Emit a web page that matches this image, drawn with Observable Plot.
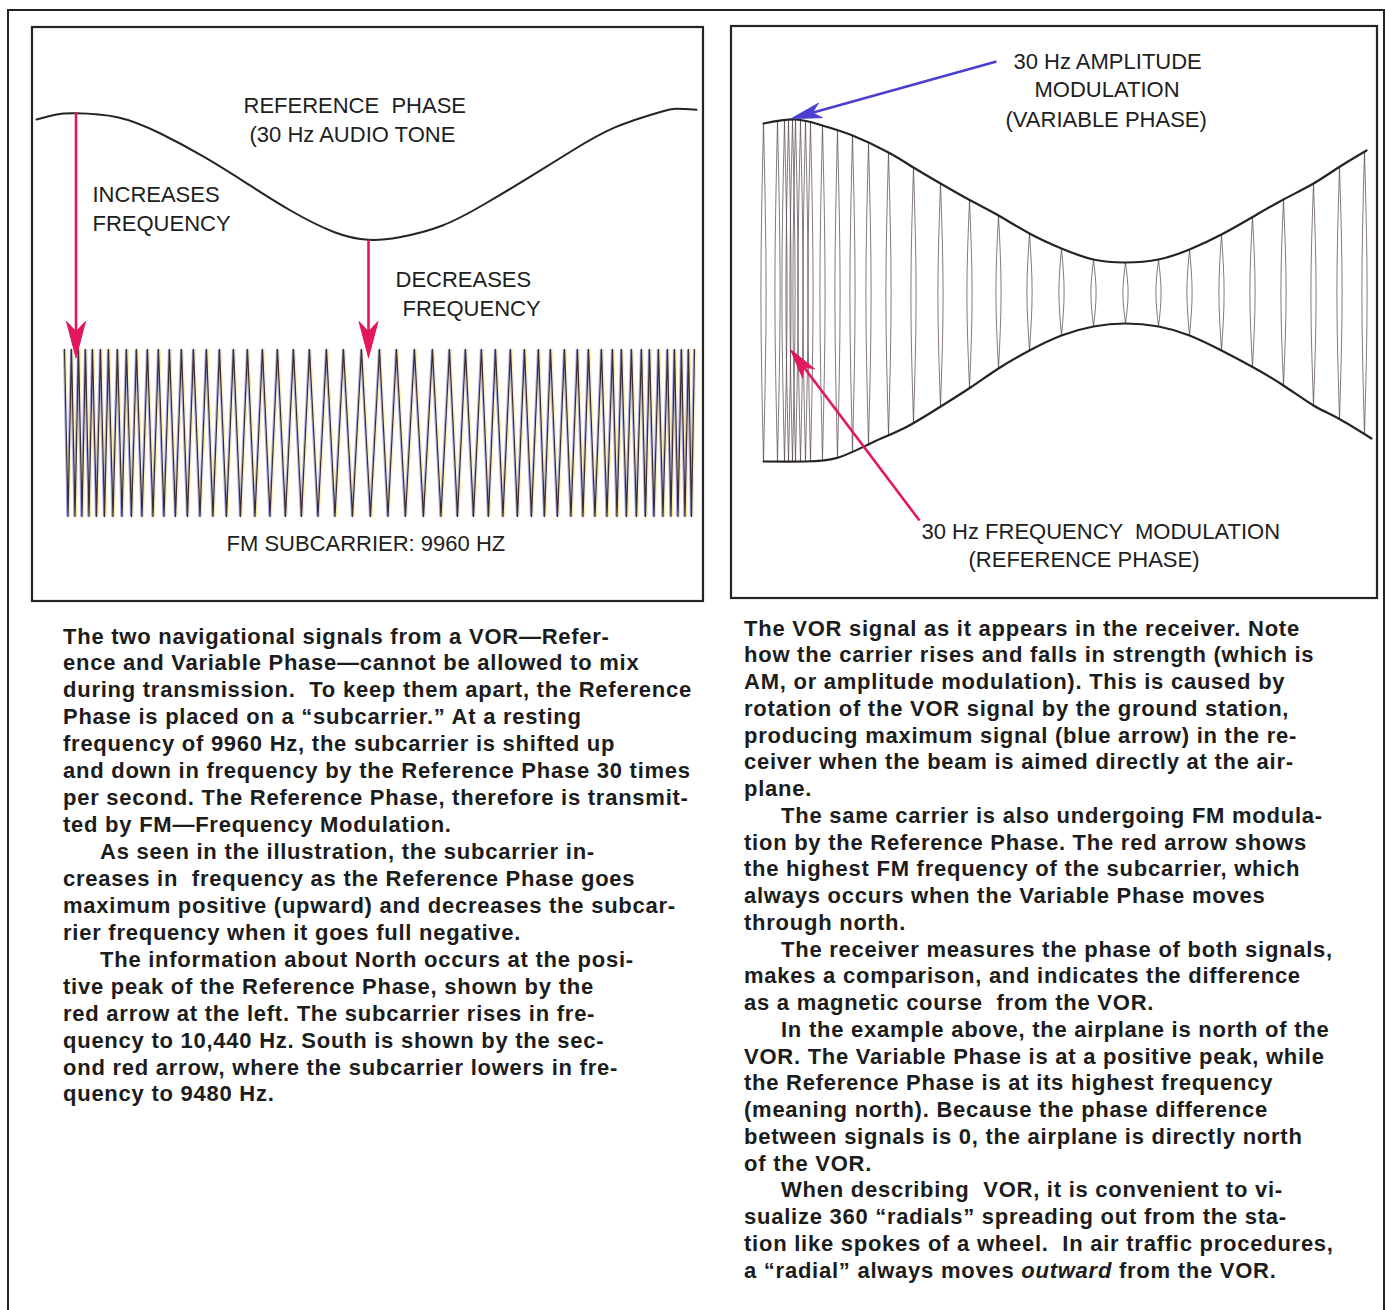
<!DOCTYPE html>
<html><head><meta charset="utf-8">
<script src="https://cdn.jsdelivr.net/npm/d3@7"></script>
<script src="https://cdn.jsdelivr.net/npm/@observablehq/plot@0.6"></script>
<style>
html,body{margin:0;padding:0;background:#fff;}
#page{position:relative;width:1385px;height:1310px;overflow:hidden;background:#fff;}
#outer{position:absolute;left:7px;top:9px;width:1374px;height:1340px;border:2px solid #232323;}
#chart{position:absolute;left:0;top:0;}
.col{position:absolute;font-family:"Liberation Sans",Arial,Helvetica,sans-serif;font-weight:bold;font-size:22px;letter-spacing:0.75px;color:#1c1c1c;white-space:pre;tab-size:37px;}
#leftText div{height:26.94px;line-height:26.94px;}
#rightText div{height:26.75px;line-height:26.75px;}
</style></head><body>
<div id="page"><div id="outer"></div><div id="chart"></div>
<div class="col" id="leftText" style="left:63px;top:623.5px"></div>
<div class="col" id="rightText" style="left:744px;top:615.6px"></div></div>
<script>
// ---------- data (drawing units = page pixels) ----------
const panels = [
  {name: "fm", x1: 32, x2: 703, y1: 27, y2: 601},
  {name: "am", x1: 731, x2: 1377, y1: 26, y2: 598}
];
// Reference phase (30 Hz audio tone)
const refPhaseX = [36, 56, 75, 117, 160, 204, 247, 290, 334, 368, 399, 442, 485, 529, 572, 615, 659, 676, 696];
const refPhaseY = [119, 114, 112.7, 116.7, 133, 156.7, 183.3, 210, 231.7, 239.3, 236.7, 225, 203, 176.7, 150, 126.7, 111.7, 108.3, 109.3];
// FM subcarrier: x of each positive peak
const fmPeaksX = [64, 71, 78, 85, 92, 100, 108, 117, 126, 136, 147, 158, 169, 181, 193, 206, 219, 233, 247, 262,
  277, 293, 309, 326, 343, 361, 379, 396, 414, 432, 449, 465, 481,
  495, 510, 524, 538, 550, 564, 577, 588, 601, 612, 621, 631, 641, 649, 658, 667, 674, 681, 688, 694];
const fmPeakY = 349, fmTroughY = 516;
// AM envelope (variable phase)
const amUpperX = [763, 795, 822, 852, 888, 913, 940, 970, 998, 1029, 1061, 1093, 1125, 1158, 1189, 1221, 1253, 1283, 1313, 1338, 1366];
const amUpperY = [123, 119, 125, 135, 152, 167, 183, 200, 215, 233, 248, 259, 262, 259, 249, 234, 216, 199, 183, 167, 150];
const amLowerX = [763, 805, 838, 872, 905, 937, 970, 998, 1029, 1061, 1093, 1125, 1158, 1189, 1221, 1253, 1283, 1313, 1338, 1371];
const amLowerY = [461, 461, 457, 442, 427, 408, 387, 368, 350, 335, 326, 323, 326, 335, 350, 367, 385, 405, 418, 438];
// carrier cycles inside the envelope (x of each cycle)
const amCarrierX = [763, 777, 784, 788, 792, 795, 800, 805, 810, 822, 837, 852, 868, 888, 913, 940, 969, 998, 1029, 1061, 1093, 1125, 1158, 1189, 1221, 1252, 1283, 1313, 1339, 1364];
// arrows: tail -> tip
const arrows = [
  {from: [75.5, 112], to: [75.5, 357], color: "red", size: "large"},
  {from: [368, 239], to: [368, 357], color: "red", size: "large"},
  {from: [996, 61], to: [791, 118], color: "blue", size: "small"},
  {from: [919, 520], to: [790, 349], color: "red", size: "small"}
];
// labels
const labelText = ["REFERENCE  PHASE", "(30 Hz AUDIO TONE", "INCREASES", "FREQUENCY", "DECREASES", "FREQUENCY", "FM SUBCARRIER: 9960 HZ",
  "30 Hz AMPLITUDE", "MODULATION", "(VARIABLE PHASE)", "30 Hz FREQUENCY  MODULATION", "(REFERENCE PHASE)"];
const labelX = [243, 249, 92, 92, 395, 402, 226, 1013, 1034, 1005, 921, 968];
const labelY = [105, 134, 194, 223, 279, 308, 543, 61, 89, 119, 531, 559];
// paragraphs (\t = paragraph indent, *..* = italic)
const leftLines = [
  "The two navigational signals from a VOR\u2014Refer-",
  "ence and Variable Phase\u2014cannot be allowed to mix",
  "during transmission.  To keep them apart, the Reference",
  "Phase is placed on a \u201csubcarrier.\u201d At a resting",
  "frequency of 9960 Hz, the subcarrier is shifted up",
  "and down in frequency by the Reference Phase 30 times",
  "per second. The Reference Phase, therefore is transmit-",
  "ted by FM\u2014Frequency Modulation.",
  "\tAs seen in the illustration, the subcarrier in-",
  "creases in  frequency as the Reference Phase goes",
  "maximum positive (upward) and decreases the subcar-",
  "rier frequency when it goes full negative.",
  "\tThe information about North occurs at the posi-",
  "tive peak of the Reference Phase, shown by the",
  "red arrow at the left. The subcarrier rises in fre-",
  "quency to 10,440 Hz. South is shown by the sec-",
  "ond red arrow, where the subcarrier lowers in fre-",
  "quency to 9480 Hz."
];
const rightLines = [
  "The VOR signal as it appears in the receiver. Note",
  "how the carrier rises and falls in strength (which is",
  "AM, or amplitude modulation). This is caused by",
  "rotation of the VOR signal by the ground station,",
  "producing maximum signal (blue arrow) in the re-",
  "ceiver when the beam is aimed directly at the air-",
  "plane.",
  "\tThe same carrier is also undergoing FM modula-",
  "tion by the Reference Phase. The red arrow shows",
  "the highest FM frequency of the subcarrier, which",
  "always occurs when the Variable Phase moves",
  "through north.",
  "\tThe receiver measures the phase of both signals,",
  "makes a comparison, and indicates the difference",
  "as a magnetic course  from the VOR.",
  "\tIn the example above, the airplane is north of the",
  "VOR. The Variable Phase is at a positive peak, while",
  "the Reference Phase is at its highest frequency",
  "(meaning north). Because the phase difference",
  "between signals is 0, the airplane is directly north",
  "of the VOR.",
  "\tWhen describing  VOR, it is convenient to vi-",
  "sualize 360 \u201cradials\u201d spreading out from the sta-",
  "tion like spokes of a wheel.  In air traffic procedures,",
  "a \u201cradial\u201d always moves *outward* from the VOR."
];

// ---------- styles ----------
const ink = "#242424";
const colors = {red: "#e3175b", blue: "#4b3fd0"};
const headSize = {large: {len: 36, half: 9.5}, small: {len: 30, half: 7.5}};
const lensHalfWidth = 2.6;
const W = 1385, H = 610;

// ---------- derived geometry ----------
const refPhase = refPhaseX.map((x, i) => ({x, y: refPhaseY[i]}));
const fmWave = [];
fmPeaksX.forEach((x, i) => {
  fmWave.push({x, y: fmPeakY});
  if (i < fmPeaksX.length - 1) fmWave.push({x: (x + fmPeaksX[i + 1]) / 2, y: fmTroughY});
});
const amUpper = amUpperX.map((x, i) => ({x, y: amUpperY[i]}));
const amLower = amLowerX.map((x, i) => ({x, y: amLowerY[i]}));
const yAt = (xs, ys, x) => {
  if (x <= xs[0]) return ys[0];
  for (let i = 1; i < xs.length; i++) if (x <= xs[i]) {
    const t = (x - xs[i - 1]) / (xs[i] - xs[i - 1]);
    return ys[i - 1] + t * (ys[i] - ys[i - 1]);
  }
  return ys[ys.length - 1];
};
const lenses = [];
amCarrierX.forEach((x, i) => {
  const top = yAt(amUpperX, amUpperY, x), bot = yAt(amLowerX, amLowerY, x), mid = (top + bot) / 2;
  for (const s of [-1, 1]) {
    const id = i + "_" + s;
    lenses.push({id, x, y: top}, {id, x: x + s * lensHalfWidth, y: mid}, {id, x, y: bot});
  }
});
const arrowMarks = arrows.flatMap((a) => {
  const [x1, y1] = a.from, [x2, y2] = a.to;
  const len = Math.hypot(x2 - x1, y2 - y1), ux = (x2 - x1) / len, uy = (y2 - y1) / len;
  const {len: L, half: hw} = headSize[a.size];
  const bx = x2 - ux * L, by = y2 - uy * L;
  const nx = x2 - ux * L * 0.72, ny = y2 - uy * L * 0.72;
  const head = [
    {x: x2, y: y2}, {x: bx - uy * hw, y: by + ux * hw}, {x: nx, y: ny},
    {x: bx + uy * hw, y: by - ux * hw}, {x: x2, y: y2}
  ];
  return [
    Plot.link([a], {x1: () => x1, y1: () => y1, x2: () => nx, y2: () => ny, stroke: colors[a.color], strokeWidth: 2.6}),
    Plot.line(head, {x: "x", y: "y", fill: colors[a.color], stroke: colors[a.color], strokeWidth: 1, curve: "linear"})
  ];
});
const labels = labelText.map((text, i) => ({text, x: labelX[i], y: labelY[i]}));

const chart = Plot.plot({
  width: W, height: H, margin: 0,
  style: {background: "transparent", overflow: "visible"},
  x: {domain: [0, W], range: [0, W], axis: null},
  y: {domain: [0, H], range: [0, H], axis: null},
  marks: [
    Plot.rect(panels, {x1: "x1", x2: "x2", y1: "y1", y2: "y2", fill: "white", stroke: ink, strokeWidth: 2.2}),
    // FM subcarrier with faint print mis-registration fringes
    Plot.line(fmWave, {x: "x", y: "y", stroke: "#e6d23c", strokeWidth: 0.9, dx: 1.5, strokeOpacity: 0.45}),
    Plot.line(fmWave, {x: "x", y: "y", stroke: "#4c55d8", strokeWidth: 0.9, dx: -1.1, strokeOpacity: 0.5}),
    Plot.line(fmWave, {x: "x", y: "y", stroke: "#3e2d38", strokeWidth: 1.3}),
    // reference phase
    Plot.line(refPhase, {x: "x", y: "y", curve: "natural", stroke: ink, strokeWidth: 2}),
    // AM carrier and envelope
    Plot.line(lenses, {x: "x", y: "y", z: "id", curve: "natural", stroke: "#54444f", strokeWidth: 0.85, strokeOpacity: 0.85}),
    Plot.line(amUpper, {x: "x", y: "y", curve: "natural", stroke: ink, strokeWidth: 2.2}),
    Plot.line(amLower, {x: "x", y: "y", curve: "natural", stroke: ink, strokeWidth: 2.2}),
    ...arrowMarks,
    Plot.text(labels, {x: "x", y: "y", text: "text", textAnchor: "start", fontSize: 22, fill: "#202020",
      fontFamily: "'Liberation Sans', Arial, Helvetica, sans-serif"})
  ]
});
document.getElementById("chart").appendChild(chart);

function fill(id, lines) {
  const el = document.getElementById(id);
  for (const line of lines) {
    const d = document.createElement("div");
    d.innerHTML = line.replace(/\*(.+?)\*/g, "<i>$1</i>");
    el.appendChild(d);
  }
}
fill("leftText", leftLines);
fill("rightText", rightLines);
</script>
</body></html>
